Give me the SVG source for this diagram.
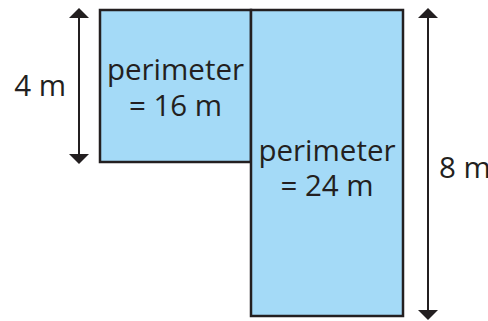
<svg xmlns="http://www.w3.org/2000/svg" width="488" height="321" viewBox="0 0 488 321">
<style>
.rect{fill:#a4daf7;stroke:#231f20;stroke-width:2.5}
.lbl{font-family:"Open Sans","Noto Sans",sans-serif;font-size:29.5px;fill:#231f20}
.dim{stroke:#231f20;stroke-width:2;fill:none}
.head{fill:#231f20}
</style>
<rect x="0" y="0" width="488" height="321" fill="#ffffff"/>
<g id="small-rect">
<rect class="rect" x="100" y="10" width="151" height="152"/>
<text class="lbl" x="175.5" y="80" text-anchor="middle">perimeter</text>
<text class="lbl" x="175.5" y="116" text-anchor="middle">= 16 m</text>
</g>
<g id="big-rect">
<rect class="rect" x="251" y="10" width="152" height="306"/>
<text class="lbl" x="327" y="161" text-anchor="middle">perimeter</text>
<text class="lbl" x="327" y="196" text-anchor="middle">= 24 m</text>
</g>
<g id="connectors">
<line class="dim" x1="79" y1="16" x2="79" y2="156"/>
<polygon class="head" points="79,8 89,18 69,18"/>
<polygon class="head" points="79,164 89,154 69,154"/>
<line class="dim" x1="428" y1="16" x2="428" y2="312"/>
<polygon class="head" points="428,8 438,18 418,18"/>
<polygon class="head" points="428,320 438,310 418,310"/>
</g>
<g id="dim-labels">
<text class="lbl" x="66" y="96" text-anchor="end">4 m</text>
<text class="lbl" x="439" y="178">8 m</text>
</g>
</svg>
